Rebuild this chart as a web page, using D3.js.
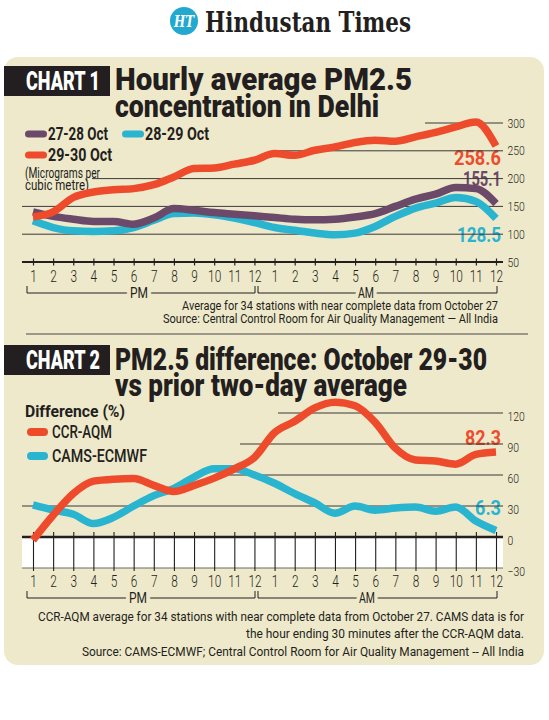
<!DOCTYPE html>
<html>
<head>
<meta charset="utf-8">
<script src="https://cdn.jsdelivr.net/npm/d3@7"></script>
<style>
  body { margin: 0; background: #fff; }
  svg { display: block; font-family: Roboto, "Noto Sans", sans-serif; }
</style>
</head>
<body>
<svg id="chart" width="549" height="720"></svg>
<script>
// x categories: hours from 1 PM to 12 AM (next day)
const hours = ["1","2","3","4","5","6","7","8","9","10","11","12",
               "1","2","3","4","5","6","7","8","9","10","11","12"];

// Chart 1: hourly average PM2.5 (micrograms per cubic metre)
const pm25Oct2728 = [140, 132, 127, 123, 123, 118, 129, 146, 143, 139, 136, 133,
                     130, 127, 126, 127, 131, 137, 150, 163, 172, 184, 182, 155.1];
const pm25Oct2829 = [124, 112, 106, 105, 106, 112, 125, 137, 138, 135, 129, 121,
                     112, 107, 102, 99, 102, 114, 132, 147, 156, 166, 159, 128.5];
const pm25Oct2930 = [131, 140, 166, 176, 180, 182, 189, 203, 218, 219, 226, 233,
                     245, 242, 251, 257, 265, 269, 267, 275, 283, 293, 302, 258.6];
const pm25Ticks = [50, 100, 150, 200, 250, 300];

// Chart 2: difference (%) vs prior two-day average
const diffCcrAqm = [-3, 21, 42, 54, 56, 56.5, 50, 44, 50, 57, 66, 77,
                    101, 112, 125, 130.5, 127, 111, 86, 74.5, 73.5, 70.5, 80, 82.3];
const diffCams = [31, 26, 22, 13, 19, 30, 40, 47, 58, 66, 66, 60,
                  52, 42, 33, 23, 30, 26, 28, 29, 25, 29, 15.5, 6.3];
const diffTicks = [-30, 0, 30, 60, 90, 120];

const ink = "#231f20";
const beige = "#efe9cb";
const red = "#ee4b2c", purple = "#6b4969", cyan = "#29b4d0";

const svg = d3.select("#chart");

// helper for condensed-looking text: squeeze to a measured width
function txt(g, x, y, s, o) {
  const t = g.append("text").attr("x", x).attr("y", y).text(s)
    .attr("font-size", o.size)
    .attr("font-weight", o.weight || 400)
    .attr("fill", o.fill || ink)
    .attr("text-anchor", o.anchor || "start");
  if (o.width) t.attr("textLength", o.width).attr("lengthAdjust", "spacingAndGlyphs");
  return t;
}

// ---- masthead ----
svg.append("circle").attr("cx", 184).attr("cy", 21).attr("r", 14).attr("fill", "#22a9cf");
txt(svg, 184, 27, "HT", { size: 16, weight: 700, fill: "#fff", anchor: "middle", width: 20 })
  .attr("font-family", "'DejaVu Serif', serif").attr("font-style", "italic");
txt(svg, 205, 32, "Hindustan Times", { size: 27, weight: 700, width: 206 })
  .attr("font-family", "'DejaVu Serif', 'Liberation Serif', serif");

// panel
svg.append("rect").attr("x", 4).attr("y", 57).attr("width", 540).attr("height", 608)
  .attr("rx", 14).attr("fill", beige);

const x = d3.scalePoint().domain(d3.range(hours.length)).range([33, 496]);
const line = yScale => d3.line().x((d, i) => x(i)).y(d => yScale(d));

function header(y0, label, l1, w1, l2, w2, b1, b2) {
  svg.append("rect").attr("x", 4).attr("y", y0).attr("width", 106).attr("height", 30).attr("fill", ink);
  txt(svg, 63, y0 + 24, label, { size: 25, weight: 900, fill: "#fff", anchor: "middle", width: 74 });
  txt(svg, 115, b1, l1, { size: 32, weight: 900, width: w1 });
  txt(svg, 115, b2, l2, { size: 32, weight: 900, width: w2 });
}

function bracket(g, yLine, x0, x1, label, lx) {
  g.append("path")
    .attr("d", `M${x0},${yLine - 7}V${yLine}H${x1}V${yLine - 7}`)
    .attr("fill", "none").attr("stroke", ink).attr("stroke-width", 1);
  txt(g, lx, yLine + 5, label, { size: 15, anchor: "middle", width: label === "PM" ? 18 : 16 })
    .attr("stroke", beige).attr("stroke-width", 10).attr("paint-order", "stroke");
}

function styleTicksY(ax) {
  ax.select(".domain").remove();
  ax.selectAll(".tick text").attr("fill", ink).attr("font-size", 13)
    .attr("font-family", "Roboto, sans-serif").attr("font-weight", 300)
    .attr("transform", "scale(0.8,1)");
}

function styleTicksX(ax, ty) {
  ax.select(".domain").remove();
  ax.selectAll(".tick text").attr("fill", ink).attr("font-size", 16)
    .attr("font-family", "Roboto, sans-serif").attr("font-weight", 300)
    .attr("y", ty).attr("dy", null).attr("transform", "scale(0.74,1)");
}

// ================= CHART 1 =================
header(66, "CHART 1", "Hourly average PM2.5", 297, "concentration in Delhi", 264, 90, 117);

const g1 = svg.append("g");
const y1 = d3.scaleLinear().domain([50, 300]).range([262, 123]);

// legend
const leg1 = [
  { name: "27-28 Oct", color: purple, lx: 25, ly: 140, w: 60 },
  { name: "28-29 Oct", color: cyan, lx: 122, ly: 140, w: 64 },
  { name: "29-30 Oct", color: red, lx: 25, ly: 161, w: 64 }
];
leg1.forEach(d => {
  g1.append("line").attr("x1", d.lx + 3.5).attr("x2", d.lx + 18.5)
    .attr("y1", d.ly - 6).attr("y2", d.ly - 6)
    .attr("stroke", d.color).attr("stroke-width", 7).attr("stroke-linecap", "round");
  txt(g1, d.lx + 23, d.ly, d.name, { size: 19, weight: 700, width: d.w });
});
txt(g1, 25, 178, "(Micrograms per", { size: 14, width: 75 });
txt(g1, 25, 190, "cubic metre)", { size: 14, width: 64 });

// end labels
txt(g1, 501, 165, "258.6", { size: 21, weight: 700, fill: red, anchor: "end", width: 47 });
txt(g1, 501, 186, "155.1", { size: 21, weight: 700, fill: purple, anchor: "end", width: 38 });
txt(g1, 501, 242, "128.5", { size: 21, weight: 700, fill: cyan, anchor: "end", width: 44 });

// gridlines (partial, they start right of the legend)
const grid1Start = { 100: 22, 150: 22, 200: 92, 250: 275, 300: 425 };
g1.selectAll(".grid").data(pm25Ticks.filter(t => t > 50)).join("line")
  .attr("x1", d => grid1Start[d]).attr("x2", 503)
  .attr("y1", d => y1(d)).attr("y2", d => y1(d))
  .attr("stroke", "#3b3838").attr("stroke-width", 1);

// base axis line at 50
g1.append("line").attr("x1", 22).attr("x2", 503).attr("y1", y1(50)).attr("y2", y1(50))
  .attr("stroke", ink).attr("stroke-width", 2);

const ax1 = g1.append("g").attr("transform", `translate(0,${y1(50)})`)
  .call(d3.axisBottom(x).tickFormat(i => hours[i]).tickSize(3));
ax1.selectAll(".tick line").attr("y1", -3.5).attr("y2", 3.5).attr("stroke", ink).attr("stroke-width", 1.2);
styleTicksX(ax1, 20);

const ay1 = g1.append("g").attr("transform", "translate(506,0)")
  .call(d3.axisRight(y1).tickValues(pm25Ticks).tickSize(0).tickPadding(2));
styleTicksY(ay1);

[[pm25Oct2829, cyan], [pm25Oct2728, purple], [pm25Oct2930, red]].forEach(([vals, col]) => {
  g1.append("path").datum(vals)
    .attr("d", line(y1).curve(d3.curveMonotoneX))
    .attr("fill", "none").attr("stroke", col).attr("stroke-width", 7.5)
    .attr("stroke-linejoin", "round").attr("stroke-linecap", "butt");
});

bracket(g1, 293, 27, 255, "PM", 139);
bracket(g1, 293, 258, 497, "AM", 366);

txt(g1, 498, 310, "Average for 34 stations with near complete data from October 27", { size: 13, anchor: "end", width: 316 });
txt(g1, 498, 323, "Source: Central Control Room for Air Quality Management \u2014 All India", { size: 13, anchor: "end", width: 335 });

// separator
svg.append("line").attr("x1", 26).attr("x2", 528).attr("y1", 334).attr("y2", 334)
  .attr("stroke", "#4a4646").attr("stroke-width", 1);

// ================= CHART 2 =================
header(345, "CHART 2", "PM2.5 difference: October 29-30", 372, "vs prior two-day average", 292, 370, 396);

const g2 = svg.append("g");
const y2 = d3.scaleLinear().domain([-30, 120]).range([568, 413]);

txt(g2, 25, 417, "Difference (%)", { size: 17, weight: 700, width: 100 });
const leg2 = [
  { name: "CCR-AQM", color: red, ly: 438, w: 60 },
  { name: "CAMS-ECMWF", color: cyan, ly: 462, w: 95 }
];
leg2.forEach(d => {
  g2.append("line").attr("x1", 31).attr("x2", 44).attr("y1", d.ly - 6).attr("y2", d.ly - 6)
    .attr("stroke", d.color).attr("stroke-width", 8).attr("stroke-linecap", "round");
  txt(g2, 52, d.ly, d.name, { size: 18, weight: 500, width: d.w });
});

txt(g2, 501, 445, "82.3", { size: 21, weight: 700, fill: red, anchor: "end", width: 36 });
txt(g2, 501, 515, "6.3", { size: 21, weight: 700, fill: cyan, anchor: "end", width: 26 });

// white band below zero
g2.append("rect").attr("x", 22).attr("y", y2(0)).attr("width", 481).attr("height", y2(-30) - y2(0))
  .attr("fill", "#fff");

const grid2Start = { 30: 22, 60: 215, 90: 240, 120: 278 };
g2.selectAll(".grid").data(diffTicks.filter(t => t > 0)).join("line")
  .attr("x1", d => grid2Start[d]).attr("x2", 503)
  .attr("y1", d => y2(d)).attr("y2", d => y2(d))
  .attr("stroke", "#3b3838").attr("stroke-width", 1);

g2.append("line").attr("x1", 22).attr("x2", 503).attr("y1", y2(-30)).attr("y2", y2(-30))
  .attr("stroke", "#6d6a66").attr("stroke-width", 1);

const ax2 = g2.append("g").attr("transform", `translate(0,${y2(0)})`)
  .call(d3.axisBottom(x).tickFormat(i => hours[i]).tickSize(3));
ax2.selectAll(".tick line").attr("y1", -5).attr("y2", y2(-30) - y2(0) + 3)
  .attr("stroke", ink).attr("stroke-width", 1.1);
styleTicksX(ax2, 50);

g2.append("line").attr("x1", 22).attr("x2", 503).attr("y1", y2(0)).attr("y2", y2(0))
  .attr("stroke", ink).attr("stroke-width", 2.5);

const ay2 = g2.append("g").attr("transform", "translate(506,0)")
  .call(d3.axisRight(y2).tickValues(diffTicks).tickSize(0).tickPadding(2));
styleTicksY(ay2);
// reference labels sit a little below their lines
ay2.selectAll(".tick text").attr("dy", "0.55em");

[[diffCams, cyan], [diffCcrAqm, red]].forEach(([vals, col]) => {
  g2.append("path").datum(vals)
    .attr("d", line(y2).curve(d3.curveMonotoneX))
    .attr("fill", "none").attr("stroke", col).attr("stroke-width", 7.5)
    .attr("stroke-linejoin", "round").attr("stroke-linecap", "butt");
});

bracket(g2, 598, 27, 255, "PM", 138);
bracket(g2, 598, 258, 497, "AM", 367);

txt(g2, 524, 621, "CCR-AQM average for 34 stations with near complete data from October 27. CAMS data is for", { size: 13, anchor: "end", width: 486 });
txt(g2, 524, 638, "the hour ending 30 minutes after the CCR-AQM data.", { size: 13, anchor: "end", width: 278 });
txt(g2, 524, 656, "Source: CAMS-ECMWF; Central Control Room for Air Quality Management -- All India", { size: 13, anchor: "end", width: 442 });
</script>
</body>
</html>
